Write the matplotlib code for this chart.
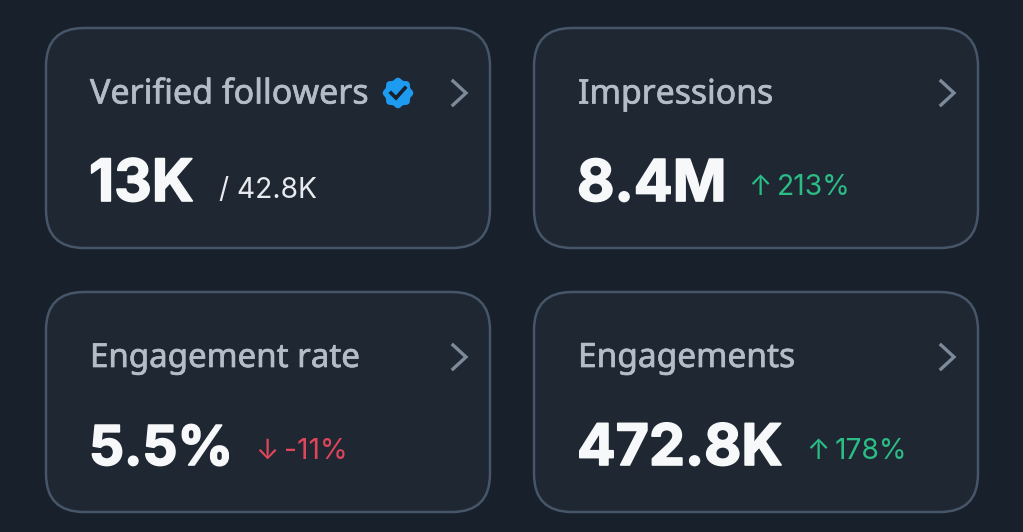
import numpy as np
import matplotlib
matplotlib.use('Agg')
import matplotlib.pyplot as plt
import matplotlib.patheffects as pe
from matplotlib.patches import FancyBboxPatch, Polygon

# Card contents
titles = ['Verified followers', 'Impressions', 'Engagement rate', 'Engagements']
values = ['13K', '8.4M', '5.5%', '472.8K']
notes = ['/ 42.8K', '213%', '-11%', '178%']
arrows = ['', '↑', '↓', '↑']

BG = '#17202b'
CARD = '#1f2732'
EDGE = '#465668'
GREEN = '#2bbd85'
RED = '#e0455a'

# left, top of each card and where the note text starts
card_x = [46, 534, 46, 534]
card_y = [28, 28, 292, 292]
note_x = [219, 748, 255, 806]
note_dx = [0, 29, 29, 29]
title_size = [24.5, 24.3, 23.8, 24.1]
value_size = [42, 41.5, 39.5, 41.2]
CARD_W, CARD_H = 444, 220

fig = plt.figure(figsize=(10.23, 5.32), dpi=100, facecolor=BG)
ax = fig.add_axes([0, 0, 1, 1])
ax.set_xlim(0, 1023)
ax.set_ylim(532, 0)
ax.axis('off')

for i in range(4):
    x, y = card_x[i], card_y[i]
    ax.add_patch(FancyBboxPatch((x + 38, y + 38), CARD_W - 76, CARD_H - 76,
                                boxstyle='round,pad=38', fc=CARD, ec=EDGE, lw=1.8))
    ax.text(x + 44, y + 66.5, titles[i], color='#b4bcc8', fontsize=title_size[i],
            family='Noto Sans', va='center', ha='left',
            path_effects=[pe.withStroke(linewidth=0.5, foreground='#b4bcc8')])
    ax.text(x + 43, y + 173, values[i], color='#f7f8f9', fontsize=value_size[i],
            family='Inter', weight='bold', va='baseline', ha='left',
            path_effects=[pe.withStroke(linewidth=1.2, foreground='#f7f8f9')])
    # chevron
    ax.plot([x + 407, x + 420, x + 407], [y + 53, y + 65, y + 77], color='#7d8a99',
            lw=2.4, solid_joinstyle='miter')
    col = '#e7eaee' if i == 0 else (RED if i == 2 else GREEN)
    if arrows[i]:
        ax.text(note_x[i], y + 167, arrows[i], color=col, fontsize=20,
                family='Inter', va='baseline', ha='left')
    ax.text(note_x[i] + note_dx[i], y + (170 if i == 0 else 167), notes[i], color=col,
            fontsize=20.3, family='Inter', va='baseline', ha='left')

# verified badge, scalloped disc with tick
t = np.linspace(0, 2 * np.pi, 200)
r = 14.3 + 1.0 * np.cos(8 * t)
ax.add_patch(Polygon(np.c_[398 + r * np.cos(t), 93 + r * np.sin(t)], fc='#1d9bf0', ec='none'))
ax.plot([391, 396, 405], [93, 98, 88], color='#17202b', lw=2.6, solid_joinstyle='miter')

fig.savefig('out.png', dpi=100, facecolor=BG)
